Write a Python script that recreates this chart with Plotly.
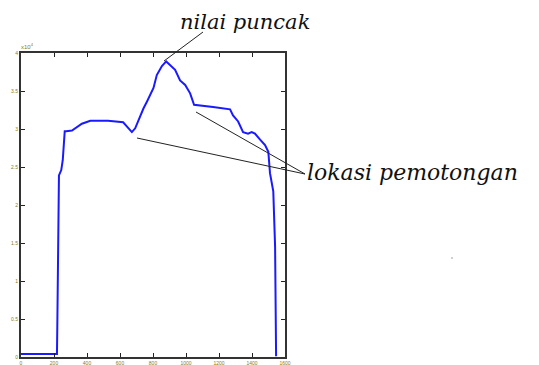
import plotly.graph_objects as go

# Data (y in units of 1e4)
x_vals = [0, 218, 220, 230, 244, 253, 265, 274, 309, 339, 369, 420, 528, 619, 650, 672, 692,
          722, 742, 763, 783, 803, 823, 854, 880, 904, 934, 964, 995, 1025, 1049, 1164, 1267,
          1285, 1316, 1346, 1376, 1398, 1418, 1449, 1479, 1499, 1509, 1529, 1540, 1546]
y_vals = [0.04, 0.04, 0.39, 2.39, 2.46, 2.59, 2.97, 2.97, 2.98, 3.03, 3.07, 3.11, 3.11, 3.09, 3.01,
          2.96, 3.01, 3.18, 3.27, 3.36, 3.45, 3.54, 3.71, 3.83, 3.89, 3.84, 3.78, 3.64, 3.58, 3.47,
          3.32, 3.29, 3.26, 3.18, 3.10, 2.96, 2.94, 2.96, 2.94, 2.86, 2.79, 2.70, 2.42, 2.18, 1.45, 0.01]

x_ticks = [0, 200, 400, 600, 800, 1000, 1200, 1400, 1600]
x_ticklabels = ["0", "200", "400", "600", "800", "1000", "1200", "1400", "1600"]
y_ticks = [0, 0.5, 1, 1.5, 2, 2.5, 3, 3.5, 4]
y_ticklabels = ["0", "0.5", "1", "1.5", "2", "2.5", "3", "3.5", "4"]

OFF = 8  # page body margin
W, H = 539 - OFF, 365 - OFF
PL, PR, PT, PB = 21, 285, 53, 357  # plot area in page pixels
L, T = PL - OFF, PT - OFF
R, B = W - (PR - OFF), H - (PB - OFF)
PW, PH = PR - PL, PB - PT

def px(x):
    return (x - PL) / PW

def py(y):
    return (PB - y) / PH

fig = go.Figure()
fig.add_trace(go.Scatter(x=x_vals, y=y_vals, mode="lines",
                         line=dict(color="#1a1aff", width=2), hoverinfo="skip"))

axis_common = dict(showgrid=False, zeroline=False, showline=True, linecolor="#333333",
                   linewidth=2, mirror="ticks", ticks="inside", ticklen=4, tickwidth=1,
                   tickcolor="#222222", automargin=False,
                   tickfont=dict(size=5, color="#8a7a20", family="Arial"))
fig.update_xaxes(range=[0, 1600], tickvals=x_ticks, ticktext=x_ticklabels, **axis_common)
fig.update_yaxes(range=[0, 4.001], tickvals=y_ticks, ticktext=y_ticklabels, **axis_common)

lines = [
    ((203, 32), (164, 61)),
    ((137, 138), (305, 174)),
    ((196, 112), (305, 174)),
]
for (x0, y0), (x1, y1) in lines:
    fig.add_shape(type="line", xref="paper", yref="paper",
                  x0=px(x0), y0=py(y0), x1=px(x1), y1=py(y1),
                  line=dict(color="#222222", width=1))

fig.add_shape(type="rect", xref="paper", yref="paper",
              x0=px(451.5), y0=py(258.5), x1=px(452.5), y1=py(257.5),
              line=dict(width=0), fillcolor="#444444")

fig.add_annotation(text="nilai puncak", xref="paper", yref="paper",
                   x=px(178), y=py(8), xanchor="left", yanchor="top", showarrow=False,
                   font=dict(family="DejaVu Serif", size=21, style="italic", color="#111111"))
fig.add_annotation(text="lokasi pemotongan", xref="paper", yref="paper",
                   x=px(305), y=py(172), xanchor="left", yanchor="middle", showarrow=False,
                   font=dict(family="DejaVu Serif", size=22, style="italic", color="#111111"))
fig.add_annotation(text="x10<sup>4</sup>", xref="paper", yref="paper",
                   x=px(19), y=py(46), xanchor="left", yanchor="middle", showarrow=False,
                   font=dict(family="Arial", size=6, color="#8a7a20"))

fig.update_layout(width=W, height=H,
                  margin=dict(l=L, r=R, t=T, b=B, autoexpand=False),
                  plot_bgcolor="white", paper_bgcolor="white", showlegend=False)

fig.write_html("out.html")
